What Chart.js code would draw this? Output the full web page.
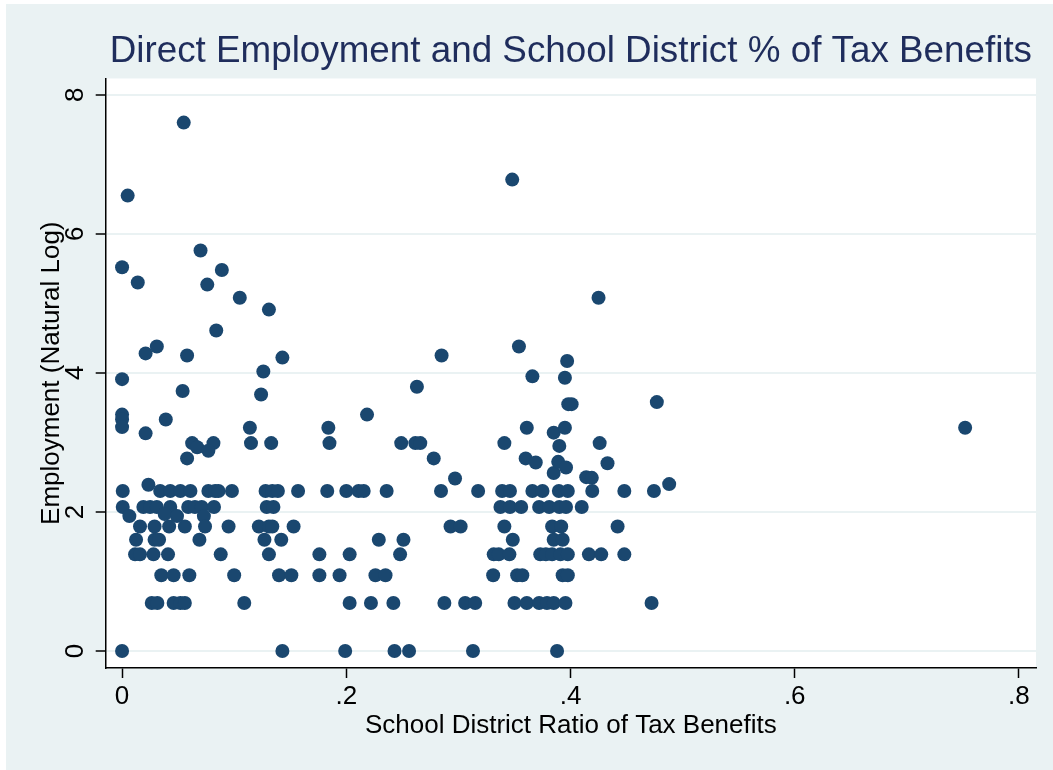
<!DOCTYPE html>
<html><head><meta charset="utf-8">
<script src="https://cdn.jsdelivr.net/npm/chart.js@4.4.1/dist/chart.umd.min.js"></script>
<style>html,body{margin:0;padding:0;background:#fff}#wrap{width:1053px;height:770px}</style>
</head><body><div id="wrap"><canvas id="c" width="1053" height="770"></canvas></div>
<script>
const titleText = 'Direct Employment and School District % of Tax Benefits';
const xAxisTitle = 'School District Ratio of Tax Benefits';
const yAxisTitle = 'Employment (Natural Log)';
const xTickValues = [0, 0.2, 0.4, 0.6, 0.8];
const xTickLabels = ['0', '.2', '.4', '.6', '.8'];
const yTickValues = [0, 2, 4, 6, 8];
const yTickLabels = ['0', '2', '4', '6', '8'];

const schoolRatio = [
  .055,.005,.348,.070,.000,.089,.014,.076,.105,.425,.131,.084,.143,.021,.031,.058,.126,.000,.285,.354,
  .366,.397,.395,.398,.401,.477,.752,.054,.124,.263,.000,.000,.000,.039,.021,.114,.115,.133,.184,.185,
  .0625,.067,.0815,.077,.058,.0235,.2185,.361,.385,.249,.2616,.266,.341,.278,.360,.369,.385,.297,.395,.390,
  .426,.389,.396,.433,.414,.419,.488,
  .0006,.034,.043,.052,.061,.077,.083,.086,.098,.128,.134,.139,.157,.183,.200,.211,.2155,.236,.2845,.3176,
  .339,.346,.366,.375,.3896,.3976,.4194,.448,.4744,
  .0006,.019,.025,.031,.043,.059,.065,.071,.082,.129,.135,.3375,.346,.356,.372,.381,.390,.396,.410,
  .0065,.038,.049,.073,
  .016,.029,.042,.056,.074,.095,.122,.131,.134,.153,.293,.302,.341,.3836,.3917,.442,
  .0125,.029,.033,.069,.127,.142,.229,.251,.3485,.385,.393,
  .0116,.016,.028,.041,.088,.131,.176,.203,.248,.3315,.336,.3455,.373,.378,.3836,.391,.3976,.4164,.4274,.448,
  .035,.046,.060,.100,.140,.151,.176,.194,.226,.235,.331,.3524,.357,.393,.3976,
  .0265,.0315,.046,.052,.056,.109,.203,.222,.242,.2875,.306,.315,.350,.361,.372,.379,.385,.3955,.4723,
  .000,.143,.199,.243,.256,.313,.388
];
const employmentLog = [
  7.60,6.55,6.78,5.76,5.52,5.48,5.30,5.27,5.08,5.08,4.91,4.61,4.22,4.28,4.38,4.25,4.02,3.91,4.25,4.38,
  3.95,4.17,3.93,3.55,3.55,3.58,3.21,3.74,3.69,3.80,3.40,3.33,3.22,3.33,3.13,3.21,2.99,2.99,3.21,2.99,
  2.99,2.93,2.99,2.88,2.77,2.39,3.40,3.21,3.14,2.99,2.99,2.99,2.99,2.77,2.77,2.71,2.56,2.48,3.21,2.95,
  2.99,2.72,2.64,2.70,2.50,2.49,2.40,
  2.30,2.30,2.30,2.30,2.30,2.30,2.30,2.30,2.30,2.30,2.30,2.30,2.30,2.30,2.30,2.30,2.30,2.30,2.30,2.30,
  2.30,2.30,2.30,2.30,2.30,2.30,2.30,2.30,2.30,
  2.07,2.07,2.07,2.07,2.07,2.07,2.07,2.07,2.07,2.07,2.07,2.07,2.07,2.07,2.07,2.07,2.07,2.07,2.07,
  1.94,1.97,1.94,1.94,
  1.79,1.79,1.79,1.79,1.79,1.79,1.79,1.79,1.79,1.79,1.79,1.79,1.79,1.79,1.79,1.79,
  1.60,1.60,1.60,1.60,1.60,1.60,1.60,1.60,1.60,1.60,1.60,
  1.39,1.39,1.39,1.39,1.39,1.39,1.39,1.39,1.39,1.39,1.39,1.39,1.39,1.39,1.39,1.39,1.39,1.39,1.39,1.39,
  1.09,1.09,1.09,1.09,1.09,1.09,1.09,1.09,1.09,1.09,1.09,1.09,1.09,1.09,1.09,
  0.69,0.69,0.69,0.69,0.69,0.69,0.69,0.69,0.69,0.69,0.69,0.69,0.69,0.69,0.69,0.69,0.69,0.69,0.69,
  0,0,0,0,0,0,0
];

const FONT = "'Liberation Sans', Arial, Helvetica, sans-serif";
Chart.defaults.font.family = FONT;

const bgPlugin = {
  id: 'bg',
  beforeDraw(chart) {
    const {ctx, width, height, chartArea: a} = chart;
    ctx.save();
    ctx.fillStyle = '#ffffff'; ctx.fillRect(0, 0, width, height);
    ctx.fillStyle = '#EAF2F3'; ctx.fillRect(6, 4, width - 6, height - 4);
    ctx.fillStyle = '#ffffff'; ctx.fillRect(a.left, a.top, a.right - a.left, a.bottom - a.top);
    ctx.restore();
  },
  afterDraw(chart) {
    const ys = chart.scales.y, ctx = chart.ctx;
    ctx.save();
    ctx.font = '26px ' + FONT;
    ctx.fillStyle = '#000';
    ctx.textAlign = 'center';
    ctx.textBaseline = 'middle';
    yTickValues.forEach((v, i) => {
      const py = ys.getPixelForValue(v);
      ctx.save();
      ctx.translate(75.5, py);
      ctx.rotate(-Math.PI / 2);
      ctx.fillText(yTickLabels[i], 0, 0);
      ctx.restore();
    });
    ctx.restore();
  }
};

new Chart(document.getElementById('c'), {
  type: 'scatter',
  data: {
    datasets: [{
      data: schoolRatio.map((x, i) => ({x: x, y: employmentLog[i]})),
      pointRadius: 7,
      pointHoverRadius: 7,
      pointBackgroundColor: '#1A476F',
      pointBorderWidth: 0
    }]
  },
  options: {
    responsive: false,
    animation: false,
    devicePixelRatio: 1,
    events: [],
    layout: {padding: {left: 0, right: 17, top: 0, bottom: 0}},
    plugins: {
      legend: {display: false},
      tooltip: {enabled: false},
      title: {
        display: true, text: titleText, fullSize: false,
        color: '#1F2D5C',
        font: {size: 36.8, weight: 'normal', family: FONT},
        padding: {top: 29.3, bottom: 5}
      }
    },
    scales: {
      x: {
        type: 'linear', min: -0.0146, max: 0.8152,
        afterBuildTicks: s => { s.ticks = xTickValues.map(v => ({value: v})); },
        afterFit: s => { s.height = 102; },
        grid: {drawOnChartArea: false, drawTicks: true, tickLength: 10, tickColor: '#000', tickWidth: 1.5},
        border: {display: true, color: '#000', width: 1.5},
        ticks: {font: {size: 26}, color: '#000', padding: 3.4, maxRotation: 0, autoSkip: false,
                callback: (v, i) => xTickLabels[i]},
        title: {display: true, text: xAxisTitle, font: {size: 26}, color: '#000', padding: {top: 0, bottom: 28.4}}
      },
      y: {
        type: 'linear', min: -0.245, max: 8.235,
        afterBuildTicks: s => { s.ticks = yTickValues.map(v => ({value: v})); },
        afterFit: s => { s.width = 105.7; },
        grid: {drawOnChartArea: true, color: '#EAF2F3', lineWidth: 2, drawTicks: true, tickLength: 10, tickColor: '#000', tickWidth: 1.5},
        border: {display: true, color: '#000', width: 1.5},
        ticks: {display: false},
        title: {display: true, text: yAxisTitle, font: {size: 26}, color: '#000', padding: {top: 36.4, bottom: 0}}
      }
    }
  },
  plugins: [bgPlugin]
});
</script>
</body></html>
